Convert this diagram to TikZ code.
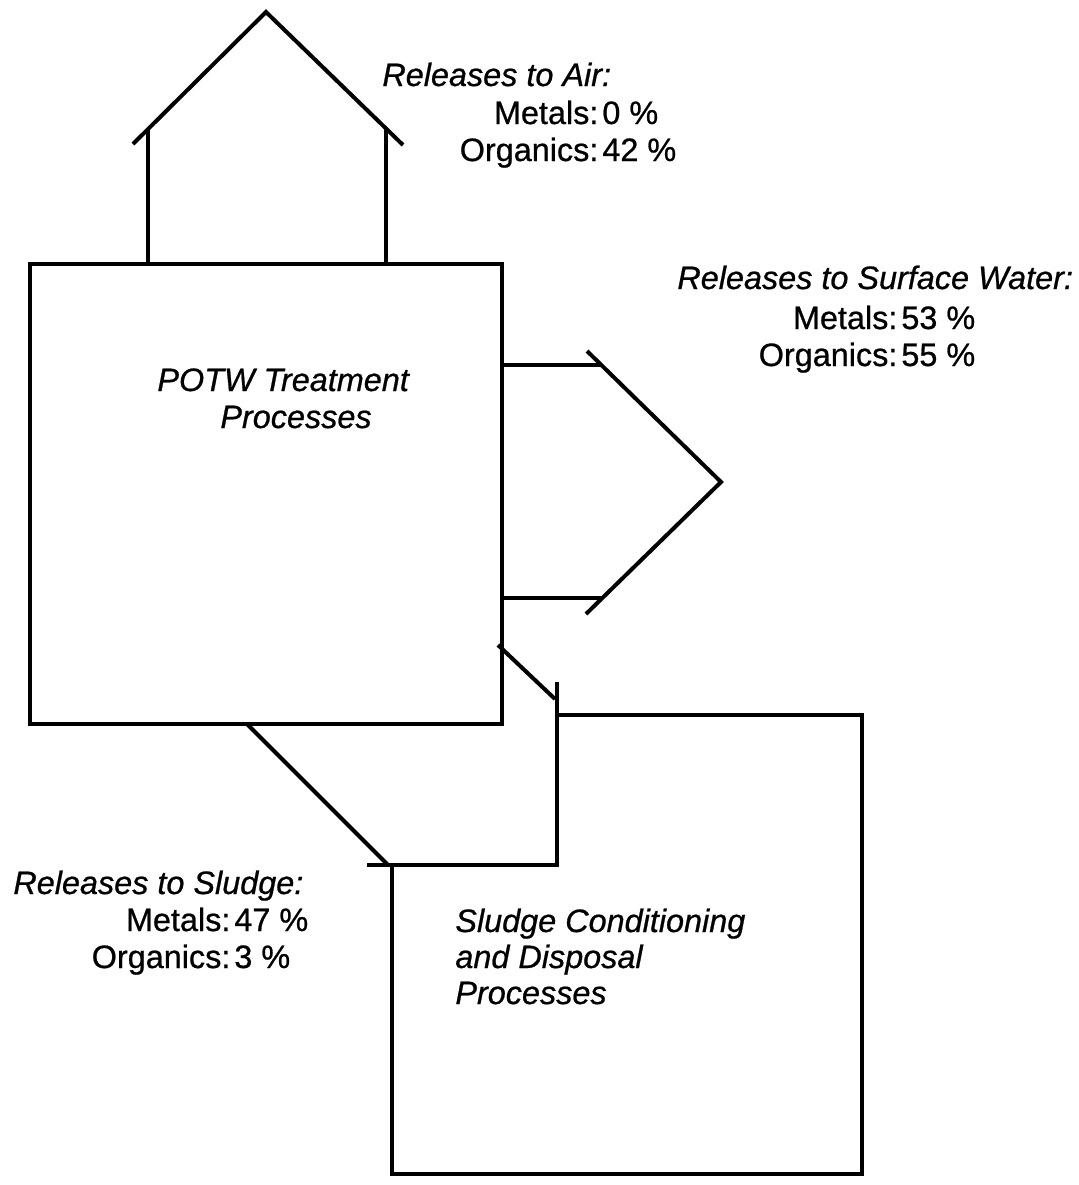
\documentclass[tikz,border=0pt]{standalone}
\usepackage{fontspec}
\setmainfont{Liberation Sans}[FakeBold=0.7]
\begin{document}
\begin{tikzpicture}[x=0.5pt,y=-0.5pt,
  outline/.style={line width=2pt,line join=miter,line cap=butt},
  txt/.style={inner sep=0pt,anchor=base west,font=\fontsize{16.2pt}{18pt}\selectfont},
  ttl/.style={txt,font=\fontsize{16.2pt}{18pt}\selectfont\itshape}]
\useasboundingbox (0,0) rectangle (1078,1185);

% main treatment box
\node[outline,draw,rectangle,minimum width=236pt,minimum height=230pt,inner sep=0pt,anchor=north west] (potw) at (28,262) {};
\node[ttl] (potw1) at (157,391) {POTW Treatment};
\node[ttl] (potw2) at (220,428) {Processes};

% sludge box (left side opens into the sludge arrow)
\coordinate (sA) at (557,715);
\coordinate (sB) at (862,715);
\coordinate (sC) at (862,1174);
\coordinate (sD) at (392,1174);
\coordinate (sE) at (392,865);
\draw[outline] (sA) -- (sB) -- (sC) -- (sD) -- (sE);
\node[ttl] (sl1) at (455,932) {Sludge Conditioning};
\node[ttl] (sl2) at (455,968) {and Disposal};
\node[ttl] (sl3) at (455,1004) {Processes};

% arrow to air
\coordinate (a1) at (148,262);
\coordinate (a2) at (148,129);
\coordinate (a3) at (386,262);
\coordinate (a4) at (386,127);
\coordinate (aL) at (133,144);
\coordinate (aT) at (266,12);
\coordinate (aR) at (403,145);
\draw[outline] (a1) -- (a2);
\draw[outline] (a3) -- (a4);
\draw[outline] (aL) -- (aT) -- (aR);

% arrow to surface water
\coordinate (w1) at (500,365);
\coordinate (w2) at (601,365);
\coordinate (w3) at (500,598);
\coordinate (w4) at (602,598);
\coordinate (wT) at (587,351);
\coordinate (wP) at (721,482);
\coordinate (wB) at (586,614);
\draw[outline] (w1) -- (w2);
\draw[outline] (w3) -- (w4);
\draw[outline] (wT) -- (wP) -- (wB);

% arrow to sludge
\coordinate (g1) at (247,724);
\coordinate (g2) at (388,865);
\coordinate (g3) at (498,645);
\coordinate (g4) at (555,699);
\coordinate (gH) at (367,865);
\coordinate (gC) at (557,865);
\coordinate (gV) at (557,682);
\draw[outline] (g1) -- (g2);
\draw[outline] (g3) -- (g4);
\draw[outline] (gH) -- (gC) -- (gV);

% release labels
\node[ttl] (airT) at (382,86) {Releases to Air:};
\node[txt] (airM) at (598,124) {\llap{Metals:}\kern2pt 0~\%};
\node[txt] (airO) at (598,161) {\llap{Organics:}\kern2pt 42~\%};

\node[ttl] (watT) at (677,289) {Releases to Surface Water:};
\node[txt] (watM) at (897,329) {\llap{Metals:}\kern2pt 53~\%};
\node[txt] (watO) at (897,366) {\llap{Organics:}\kern2pt 55~\%};

\node[ttl] (sluT) at (13,894) {Releases to Sludge:};
\node[txt] (sluM) at (230,931) {\llap{Metals:}\kern2pt 47~\%};
\node[txt] (sluO) at (230,968) {\llap{Organics:}\kern2pt 3~\%};
\end{tikzpicture}
\end{document}
